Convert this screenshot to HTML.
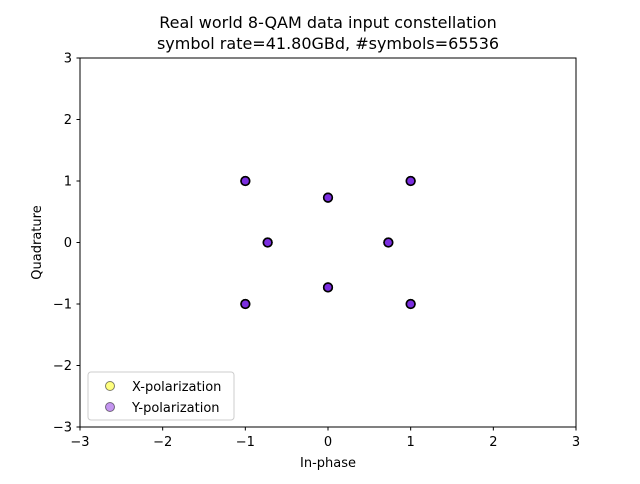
<!DOCTYPE html>
<html><head><meta charset="utf-8"><style>
body{margin:0;background:#fff;font-family:"DejaVu Sans","Liberation Sans",sans-serif;}
svg text{font-family:"DejaVu Sans","Liberation Sans",sans-serif;}
</style></head><body>
<svg id="chart" width="640" height="480" xmlns="http://www.w3.org/2000/svg">
<rect width="640" height="480" fill="#fff"/>
<text x="328" y="28" text-anchor="middle" font-size="16">Real world 8-QAM data input constellation</text>
<text x="328" y="49" text-anchor="middle" font-size="16">symbol rate=41.80GBd, #symbols=65536</text>
<g id="ticks"></g>
<g id="points"></g>
<rect x="80" y="58" width="496" height="369" fill="none" stroke="#000" stroke-width="1"/>
<text x="328" y="467" text-anchor="middle" font-size="13">In-phase</text>
<text transform="translate(41,242.5) rotate(-90)" text-anchor="middle" font-size="13">Quadrature</text>
<g>
<rect x="88" y="372" width="146" height="48" rx="3" fill="#fff" fill-opacity="0.8" stroke="#ccc"/>
<circle cx="110" cy="386" r="4.5" fill="#ffff00" fill-opacity="0.5" stroke="#000" stroke-opacity="0.5"/>
<text x="132" y="391" font-size="13">X-polarization</text>
<circle cx="110" cy="407" r="4.5" fill="#8a2be2" fill-opacity="0.5" stroke="#000" stroke-opacity="0.5"/>
<text x="132" y="412" font-size="13">Y-polarization</text>
</g>
</svg>
<script>
const ticks=[-3,-2,-1,0,1,2,3];
const tickLabels=["\u22123","\u22122","\u22121","0","1","2","3"];
const xI=[-1,-0.73,-1,0,0,1,0.73,1];
const xQ=[1,0,-1,0.73,-0.73,1,0,-1];
const yI=[-1,-0.73,-1,0,0,1,0.73,1];
const yQ=[1,0,-1,0.73,-0.73,1,0,-1];
const NS="http://www.w3.org/2000/svg";
const sx=v=>80+(v+3)/6*496, sy=v=>427-(v+3)/6*369;
const tg=document.getElementById('ticks');
function mk(t,a,p){const e=document.createElementNS(NS,t);for(const k in a)e.setAttribute(k,a[k]);p.appendChild(e);return e;}
ticks.forEach((t,i)=>{
 const l1=mk('line',{x1:sx(t),x2:sx(t),y1:427,y2:430.5,stroke:'#000'},tg);
 
 
 const t1=mk('text',{x:sx(t),y:446,'text-anchor':'middle','font-size':13},tg);t1.textContent=tickLabels[i];
 
 
 const l2=mk('line',{x1:76.5,x2:80,y1:sy(t),y2:sy(t),stroke:'#000'},tg);
 
 
 const t2=mk('text',{x:72,y:sy(t)+4.5,'text-anchor':'end','font-size':13},tg);t2.textContent=tickLabels[i];
 
 
});
const pg=document.getElementById('points');
xI.forEach((v,i)=>{
 const c=mk('circle',{cx:sx(v),cy:sy(xQ[i]),r:4.3,fill:'#ffff00',stroke:'#000','stroke-width':1.6},pg);
 
 
});
yI.forEach((v,i)=>{
 const c=mk('circle',{cx:sx(v),cy:sy(yQ[i]),r:4.3,fill:'#7b2ee0',stroke:'#000','stroke-width':1.6},pg);
 
 
});
</script>
</body></html>
